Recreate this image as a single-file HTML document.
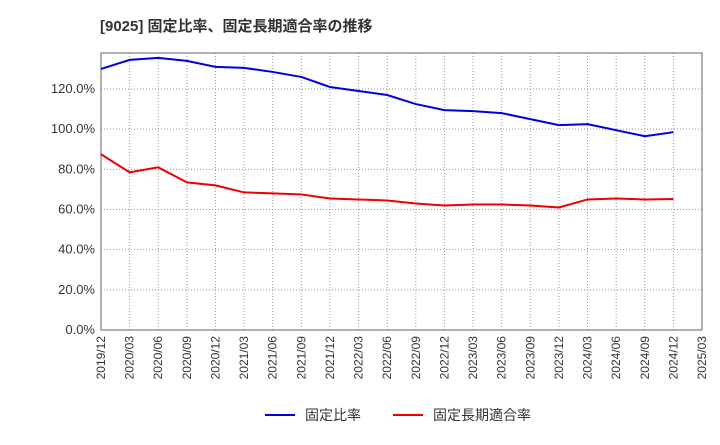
<!DOCTYPE html>
<html><head><meta charset="utf-8"><style>
body{margin:0;background:#fff;}
text{font-family:"Liberation Sans","Noto Sans CJK JP",sans-serif;}
</style></head><body>
<svg id="c" width="720" height="440" xmlns="http://www.w3.org/2000/svg">
<text x="100" y="31" font-size="15" font-weight="bold" fill="#333">[9025]  固定比率、固定長期適合率の推移</text>
</svg>
<script>
const categories=["2019/12","2020/03","2020/06","2020/09","2020/12","2021/03","2021/06","2021/09","2021/12","2022/03","2022/06","2022/09","2022/12","2023/03","2023/06","2023/09","2023/12","2024/03","2024/06","2024/09","2024/12","2025/03"];
const fixedRatio=[130,134.5,135.5,134,131,130.5,128.5,126,121,119,117,112.5,109.5,109,108,105,102,102.5,99.5,96.5,98.5];
const fixedLongTerm=[87.5,78.5,81,73.5,72,68.5,68,67.5,65.5,65,64.5,63,62,62.5,62.5,62,61,65,65.5,65,65.2];
const yTicks=[0,20,40,60,80,100,120];
const yTickLabels=["0.0%","20.0%","40.0%","60.0%","80.0%","100.0%","120.0%"];
const NS="http://www.w3.org/2000/svg",svg=document.getElementById('c');
const L=101,R=702,T=53,B=330;
const x=i=>L+i*(R-L)/(categories.length-1);
const y=v=>B-v*(B-89)/120;
function mk(t,a,p){const e=document.createElementNS(NS,t);for(const k in a)e.setAttribute(k,a[k]);(p||svg).appendChild(e);return e;}
for(let i=1;i<categories.length-1;i++){const g=mk('line',{x1:x(i),x2:x(i),y1:T,y2:B,stroke:'#999','stroke-dasharray':'1,2'});

}
yTicks.forEach((v,i)=>{if(v>0){const g=mk('line',{x1:L,x2:R,y1:y(v),y2:y(v),stroke:'#999','stroke-dasharray':'1,2'});

}
const t=mk('text',{x:L-6,y:y(v)+4,'font-size':13,'text-anchor':'end',fill:'#333'});t.textContent=yTickLabels[i];

});
categories.forEach((c,i)=>{const t=mk('text',{transform:`translate(${x(i)+4},${B+6}) rotate(-90)`,'font-size':12,'text-anchor':'end',fill:'#333'});t.textContent=c;

});
const fr=mk('rect',{x:L,y:T,width:R-L,height:B-T,fill:'none',stroke:'#666'});


function series(d,col,name){const p=mk('polyline',{points:d.map((v,i)=>x(i)+','+y(v)).join(' '),fill:'none',stroke:col,'stroke-width':2});

}
series(fixedRatio,'#0000dd','fixed-ratio-line');
series(fixedLongTerm,'#ee0000','fixed-long-term-ratio-line');
function leg(x0,col,label,name){const g=mk('g',{});


mk('line',{x1:x0,x2:x0+30,y1:415,y2:415,stroke:col,'stroke-width':2},g);
const t=mk('text',{x:x0+40,y:420,'font-size':14,fill:'#333'},g);t.textContent=label;}
leg(265,'#0000dd','固定比率','legend-fixed-ratio');
leg(393,'#ee0000','固定長期適合率','legend-fixed-long-term');
</script>
</body></html>
